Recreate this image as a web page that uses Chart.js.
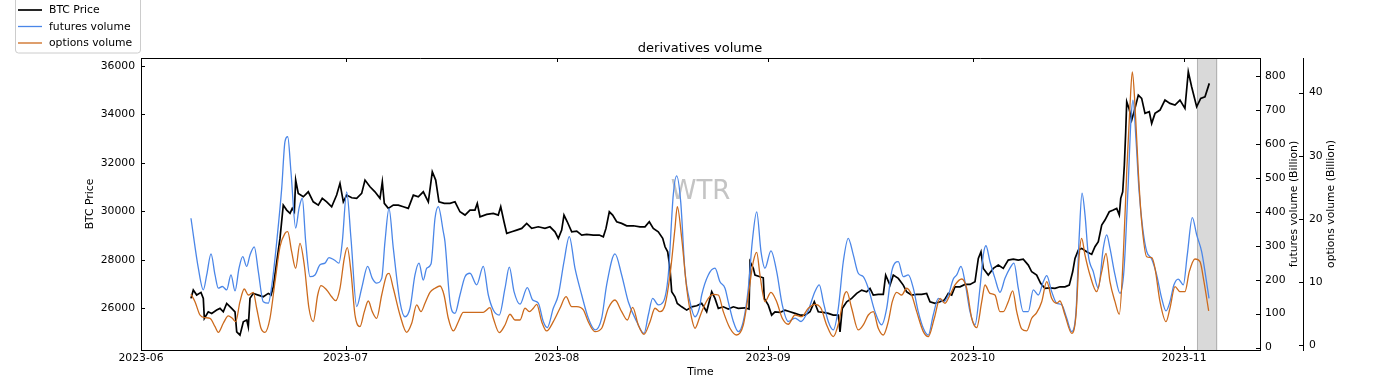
<!DOCTYPE html>
<html><head><meta charset="utf-8">
<script src="https://cdn.jsdelivr.net/npm/chart.js@4.4.0/dist/chart.umd.min.js"></script>
<style>html,body{margin:0;padding:0;background:#fff;overflow:hidden}#wrap{width:1400px;height:389px;position:relative}canvas{display:block}</style>
</head><body><div id="wrap"><canvas id="c" width="1400" height="389"></canvas></div>
<script>
// ---- x axis: days since 2023-06-01 ----
const monthTickDays = [0, 30, 61, 92, 122, 153];
const monthTickLabels = ['2023-06', '2023-07', '2023-08', '2023-09', '2023-10', '2023-11'];
const btcTicks = [26000, 28000, 30000, 32000, 34000, 36000];
const futuresTicks = [0, 100, 200, 300, 400, 500, 600, 700, 800];
const optionsTicks = [0, 10, 20, 30, 40];
const highlightStart = 154.9, highlightEnd = 157.9;
const legendLabels = ['BTC Price', 'futures volume', 'options volume'];

// ---- BTC price ----
const btcDays = [7.33,7.67,8.17,8.8,9.14,9.29,9.87,10.37,11.1,11.59,
12.07,12.57,13.3,13.79,14.04,14.52,15.01,15.51,15.74,15.99,
16.47,17.21,17.94,18.67,19.07,19.41,19.91,20.39,20.87,21.37,
21.86,22.19,22.49,22.69,23.07,23.81,24.54,25.27,26.01,26.59,
27.24,27.97,28.7,29.19,29.68,30.17,30.91,31.64,32.37,32.86,
33.59,34.32,35.06,35.4,35.69,36.28,37.01,37.75,38.48,39.21,
39.95,40.68,41.41,42.15,42.73,43.23,43.71,44.49,45.33,46.06,
46.79,47.53,48.26,48.99,49.33,49.73,50.71,51.68,52.41,52.77,
53.25,53.65,54.38,55.11,55.85,56.58,57.31,58.28,59.26,60.0,
60.73,61.22,61.71,62.05,62.53,63.18,63.92,64.65,65.38,66.35,
67.23,67.82,68.21,68.7,69.19,69.78,70.51,71.25,72.22,73.2,
73.93,74.56,75.15,75.88,76.53,76.87,77.26,77.6,77.85,78.33,
78.67,79.32,80.05,80.78,81.52,82.25,82.98,83.72,84.2,84.69,
85.42,86.15,86.89,87.62,88.6,89.19,89.34,89.82,90.07,90.8,
91.28,91.43,92.02,92.51,93.0,93.73,94.47,95.2,95.94,96.67,
97.4,98.14,98.77,99.35,100.09,100.82,101.55,102.29,102.54,102.87,
103.52,104.25,104.99,105.72,106.45,106.94,107.42,108.15,108.89,109.24,
109.87,110.36,111.09,111.82,112.32,113.05,113.79,114.52,115.25,115.74,
116.47,117.21,117.84,118.43,118.92,119.41,120.14,120.87,121.61,122.34,
122.83,123.22,123.56,124.29,125.03,125.76,126.49,127.22,127.96,128.69,
129.42,130.16,130.66,131.39,131.97,132.6,133.33,134.07,134.81,135.54,
136.17,136.67,137.01,137.49,137.99,138.73,139.46,139.94,140.43,140.93,
141.41,142.04,142.63,143.13,143.51,143.72,144.01,144.25,144.45,144.6,
144.93,145.33,145.81,146.3,146.79,147.28,147.91,148.26,148.75,149.48,
150.21,150.94,151.68,152.41,153.14,153.63,154.12,154.86,155.45,156.08,
156.71];
const btcPrice = [26408,26750,26544,26655,26408,25583,25855,25789,25925,25995,
25855,26201,25995,25855,25030,24894,25443,25513,25236,26408,
26614,26544,26474,26614,26544,26886,27917,28882,30255,30049,
29913,30119,29979,31286,30738,30598,30804,30391,30255,30532,
30391,30185,30668,31150,30391,30668,30556,30532,30738,31286,
31010,30804,30532,31216,30325,30119,30255,30255,30185,30119,
30668,30598,30804,30391,31629,31286,30391,30325,30325,30391,
29979,29843,30049,30049,30325,29773,29872,29913,29843,30185,
29567,29088,29154,29224,29294,29501,29294,29360,29294,29360,
29154,28882,29224,29843,29567,29154,29183,29018,29047,29018,
29018,28948,29294,29979,29843,29567,29501,29402,29402,29360,
29360,29567,29294,29154,28882,28536,28329,27645,26680,26474,
26201,26061,25925,26061,26102,26201,25855,26680,26408,25995,
26061,25966,26061,25995,26020,25966,27917,27645,27368,27298,
27257,26408,26131,25719,25855,25830,25925,25855,25789,25719,
25719,25855,26267,25855,25830,25789,25719,25719,25030,25995,
26267,26408,26614,26750,26680,26820,26544,26573,26573,27368,
26956,27368,27232,26956,26680,26544,26573,26573,26614,26267,
26201,26267,26337,26614,26544,26886,26886,26985,26985,27092,
28057,28329,27645,27368,27645,27781,27645,27987,28028,27987,
28028,27781,27505,27368,27026,26820,26845,26820,26886,26886,
26956,27505,28057,28399,28470,28329,28222,28536,28742,29430,
29637,29979,30049,30119,29843,30532,30804,31905,33278,34515,
34243,33761,34243,34792,34656,34037,34103,33625,34037,34173,
34585,34449,34379,34585,34243,35753,35134,34309,34656,34722,
35274];

// ---- futures volume (Billion) ----
const futuresDays = [7.33,8.41,9.14,9.64,10.27,10.86,11.34,11.93,12.57,13.2,
13.79,14.38,14.92,15.51,15.99,16.62,17.21,17.94,18.67,19.26,
19.91,20.64,21.12,21.52,22.0,22.69,23.18,23.66,24.16,24.79,
25.52,26.26,26.99,27.58,28.36,29.04,29.53,30.17,30.8,31.64,
32.37,33.25,33.93,34.57,35.31,35.79,36.38,37.01,37.99,38.73,
39.46,40.19,40.78,41.41,41.91,42.54,43.13,43.61,44.34,44.59,
45.33,46.06,46.79,47.53,48.26,49.24,50.21,50.95,51.68,52.56,
53.4,54.03,54.72,55.6,56.67,57.46,58.28,59.01,59.6,60.48,
61.22,62.05,62.83,63.66,64.65,65.61,66.6,67.58,68.31,69.53,
70.51,71.48,72.71,73.79,74.42,75.06,75.88,76.62,77.35,78.08,
78.58,79.17,79.8,80.53,81.27,81.9,82.25,83.22,84.2,84.93,
85.67,86.15,86.89,87.62,88.35,89.09,89.67,90.32,90.95,91.53,
92.41,93.25,94.07,94.95,95.94,96.82,97.8,98.87,99.5,100.09,
100.82,101.55,102.29,103.02,103.75,104.49,105.22,105.95,106.69,107.67,
108.65,109.39,110.12,111.09,111.82,112.56,113.29,114.02,114.76,115.49,
116.22,116.96,117.69,118.43,119.16,119.66,120.29,120.87,121.61,122.34,
123.07,123.56,123.95,124.54,125.27,126.01,126.74,127.47,128.06,128.69,
129.42,130.16,130.89,131.63,132.36,132.86,133.59,134.32,135.06,135.79,
136.53,137.16,137.64,138.04,138.48,138.96,139.69,140.43,141.16,141.66,
142.14,142.88,143.61,144.2,144.78,145.22,145.52,145.96,146.4,146.94,
147.53,148.26,148.99,149.73,150.36,150.94,151.53,152.16,152.9,153.48,
154.22,154.86,155.59,156.08,156.67];
const futuresVolume = [381,234,170,214,276,214,175,180,170,214,
167,234,268,239,273,297,224,135,131,194,
312,469,607,621,518,352,410,440,312,209,
214,244,249,265,258,249,312,459,322,121,
175,239,204,190,204,312,410,293,135,91,
116,214,249,199,234,246,381,415,342,312,
135,101,155,209,219,185,239,155,111,96,
175,237,165,128,177,140,131,77,59,116,
155,253,327,234,155,87,52,87,185,276,
214,135,77,42,96,145,126,135,214,450,
506,430,224,135,91,116,155,214,234,194,
175,135,77,47,77,175,312,400,283,234,
285,224,126,77,87,77,106,165,185,135,
77,52,116,253,322,273,219,209,175,106,
67,116,224,253,209,214,175,106,57,37,
96,145,135,155,202,214,239,194,106,67,
175,273,300,253,204,163,204,234,249,175,
106,106,170,155,194,212,165,131,126,87,
47,106,332,455,391,273,224,175,293,332,
293,214,160,229,464,670,729,612,464,352,
283,261,214,145,108,135,185,202,185,273,
383,332,283,224,145];

// ---- options volume (Billion) ----
const optionsDays = [7.33,7.92,8.65,9.39,10.12,10.86,11.34,12.07,12.81,13.39,
13.89,14.52,15.15,15.74,16.47,16.97,17.6,18.19,18.92,19.66,
20.39,21.12,21.52,22.1,22.69,23.32,23.95,24.64,25.27,25.92,
26.4,27.24,27.97,28.56,29.19,29.82,30.26,30.8,31.39,32.12,
32.76,33.34,33.93,34.57,35.31,36.04,36.38,37.01,37.99,38.97,
39.71,40.44,41.07,41.66,42.39,43.13,43.86,44.45,45.08,45.81,
46.55,47.28,48.75,50.21,51.2,51.68,52.56,53.4,54.13,54.86,
55.6,56.33,56.96,57.55,58.05,58.78,59.51,60.48,61.46,62.35,
63.18,63.92,64.89,65.61,66.6,67.58,68.55,69.53,70.51,71.34,
72.13,72.95,73.79,74.67,75.4,76.13,76.87,77.6,78.33,78.67,
79.32,80.05,80.78,81.27,81.9,82.25,83.22,83.95,84.69,85.42,
86.4,87.38,88.35,89.09,89.82,90.32,90.8,91.53,92.41,93.25,
94.07,94.95,95.94,96.92,97.89,98.87,99.75,100.58,101.55,102.39,
103.17,103.52,104.25,105.22,105.95,106.69,107.42,108.15,108.89,109.62,
110.21,110.86,111.59,112.32,113.05,113.79,114.76,115.49,116.37,117.21,
117.94,118.67,119.41,120.39,121.12,121.86,122.59,123.33,123.81,124.54,
125.27,126.01,126.49,127.22,127.87,128.46,129.19,129.92,130.66,131.39,
132.13,132.86,133.59,134.32,134.81,135.54,136.53,137.16,137.64,137.99,
138.48,139.21,140.19,140.93,141.56,142.14,142.88,143.51,144.1,144.6,
145.08,145.42,145.81,146.3,146.79,147.53,148.26,148.75,149.48,150.36,
150.94,151.68,152.41,153.14,153.78,154.61,155.35,155.93,156.62];
const optionsVolume = [8.03,6.86,4.75,4.33,4.23,2.9,2.01,3.44,4.6,4.23,
3.69,6.86,8.87,7.92,8.35,5.82,2.65,2.01,4.23,10.03,
15.58,17.7,17.96,14.79,12.16,16.12,12.68,5.82,3.69,7.92,
9.4,8.72,7.65,7.02,8.99,13.74,15.42,11.62,4.75,2.9,
5.28,6.97,5.28,4.23,7.92,11.09,11.36,8.99,4.75,2.01,
3.44,6.34,5.28,6.61,8.35,8.99,9.35,7.92,4.23,2.22,
3.69,5.18,5.18,5.18,5.91,4.23,1.95,3.17,4.87,3.96,
3.96,5.82,5.28,5.82,6.45,3.69,2.22,3.69,5.82,7.65,
6.07,6.07,5.55,3.69,2.11,2.65,5.82,7.13,5.28,3.96,
5.97,3.17,1.7,3.69,5.82,5.28,6.34,11.09,18.49,21.92,
16.91,8.99,4.23,2.65,4.23,5.28,7.4,8.03,7.92,5.28,
2.65,1.58,3.17,7.92,13.2,14.69,11.09,6.86,8.35,6.86,
4.23,3.28,4.75,4.48,5.82,6.45,5.82,3.17,1.32,3.69,
7.92,8.45,5.82,2.38,3.17,4.75,5.28,2.65,1.58,3.69,
6.86,8.35,7.92,8.99,7.92,5.28,2.11,1.32,4.23,7.4,
6.61,7.92,9.51,10.46,8.99,4.23,2.74,6.86,9.51,8.19,
7.92,5.28,5.28,6.86,8.56,5.28,2.54,2.22,4.23,5.12,
6.86,10.03,7.4,6.61,6.97,4.75,1.85,4.75,14.26,16.91,
14.26,11.09,8.45,11.62,14.53,10.03,6.86,4.87,14.26,27.46,
38.04,43.31,38.04,27.46,19.54,13.99,13.84,12.16,6.86,3.69,
5.82,9.24,8.45,8.45,11.62,13.63,13.2,10.03,5.39];

const toXY = (xs, ys) => xs.map((x, i) => ({x: x, y: ys[i]}));

const FONT = 'DejaVu Sans';
Chart.defaults.font.family = FONT;
Chart.defaults.font.size = 10.8;
Chart.defaults.color = '#000';

const COLORS = {btc: '#000000', fut: '#4a86e8', opt: '#cc6a1c'};

const decor = {
  id: 'decor',
  beforeDatasetsDraw(chart) {
    const {ctx, chartArea: a, scales} = chart;
    const x = scales.x;
    ctx.save();
    const x0 = x.getPixelForValue(highlightStart), x1 = x.getPixelForValue(highlightEnd);
    ctx.fillStyle = '#d9d9d9';
    ctx.fillRect(x0, a.top, x1 - x0, a.bottom - a.top);
    ctx.strokeStyle = '#b3b3b3';
    ctx.lineWidth = 1;
    ctx.beginPath();
    ctx.moveTo(Math.round(x0) + 0.5, a.top); ctx.lineTo(Math.round(x0) + 0.5, a.bottom);
    ctx.moveTo(Math.round(x1) - 0.5, a.top); ctx.lineTo(Math.round(x1) - 0.5, a.bottom);
    ctx.stroke();
    ctx.fillStyle = '#c4c4c4';
    ctx.font = '26px "' + FONT + '"';
    ctx.textAlign = 'center';
    ctx.textBaseline = 'middle';
    ctx.fillText('WTR', (a.left + a.right) / 2, 192);
    ctx.restore();
  },
  afterDraw(chart) {
    const {ctx, chartArea: a, scales} = chart;
    ctx.save();
    ctx.strokeStyle = '#000';
    ctx.lineWidth = 1;
    ctx.beginPath();
    ctx.moveTo(a.left, Math.round(a.top) + 0.5);
    ctx.lineTo(a.right, Math.round(a.top) + 0.5);
    ctx.stroke();
    const L = 4;
    ctx.beginPath();
    for (const v of monthTickDays) {
      const p = Math.round(scales.x.getPixelForValue(v)) + 0.5;
      ctx.moveTo(p, a.bottom); ctx.lineTo(p, a.bottom - L);
      ctx.moveTo(p, a.top); ctx.lineTo(p, a.top + L);
    }
    for (const v of btcTicks) {
      const p = Math.round(scales.y.getPixelForValue(v)) + 0.5;
      ctx.moveTo(a.left, p); ctx.lineTo(a.left + L, p);
    }
    for (const v of futuresTicks) {
      const p = Math.round(scales.y1.getPixelForValue(v)) + 0.5;
      ctx.moveTo(a.right, p); ctx.lineTo(a.right - L, p);
    }
    const ox = scales.y2.left;
    for (const v of optionsTicks) {
      const p = Math.round(scales.y2.getPixelForValue(v)) + 0.5;
      ctx.moveTo(ox, p); ctx.lineTo(ox - L, p);
    }
    ctx.stroke();
    ctx.fillStyle = '#000';
    ctx.font = '10.8px "' + FONT + '"';
    ctx.textAlign = 'center';
    ctx.textBaseline = 'middle';
    const cy = (a.top + a.bottom) / 2;
    [[1294, 'futures volume (Billion)'], [1331, 'options volume (Billion)']].forEach(([tx, t]) => {
      ctx.save();
      ctx.translate(tx, cy);
      ctx.rotate(-Math.PI / 2);
      ctx.fillText(t, 0, 0);
      ctx.restore();
    });
    ctx.fillStyle = '#fff';
    ctx.strokeStyle = '#cccccc';
    ctx.beginPath();
    if (ctx.roundRect) ctx.roundRect(15.5, -4.5, 125, 57.5, 3); else ctx.rect(15.5, -4.5, 125, 57.5);
    ctx.fill(); ctx.stroke();
    const cols = [COLORS.btc, COLORS.fut, COLORS.opt];
    const ys = [10, 26.5, 43];
    ctx.textAlign = 'left';
    legendLabels.forEach((t, i) => {
      ctx.strokeStyle = cols[i];
      ctx.lineWidth = i === 0 ? 1.7 : 1.3;
      ctx.beginPath();
      ctx.moveTo(18, ys[i]); ctx.lineTo(42, ys[i]);
      ctx.stroke();
      ctx.fillStyle = '#000';
      ctx.fillText(t, 49, ys[i] + 0.5);
    });
    ctx.restore();
  }
};

const axisBase = {
  grid: {display: false, drawTicks: false, drawOnChartArea: false},
  border: {display: true, color: '#000', width: 1},
};

new Chart(document.getElementById('c'), {
  type: 'line',
  data: {
    datasets: [
      {label: legendLabels[0], data: toXY(btcDays, btcPrice), yAxisID: 'y', borderColor: COLORS.btc, borderWidth: 1.7, pointRadius: 0, tension: 0, order: 3},
      {label: legendLabels[1], data: toXY(futuresDays, futuresVolume), yAxisID: 'y1', borderColor: COLORS.fut, borderWidth: 1.3, pointRadius: 0, tension: 0.4, cubicInterpolationMode: 'monotone', order: 2},
      {label: legendLabels[2], data: toXY(optionsDays, optionsVolume), yAxisID: 'y2', borderColor: COLORS.opt, borderWidth: 1.3, pointRadius: 0, tension: 0.4, cubicInterpolationMode: 'monotone', order: 1}
    ]
  },
  options: {
    responsive: false,
    animation: false,
    devicePixelRatio: 1,
    layout: {padding: {left: 0, right: 0, top: 0, bottom: 0}},
    plugins: {
      legend: {display: false},
      tooltip: {enabled: false},
      title: {display: true, text: 'derivatives volume', color: '#000', font: {size: 13, weight: 'normal'}, padding: {top: 40.5, bottom: 1.9}}
    },
    scales: {
      x: Object.assign({}, axisBase, {
        type: 'linear', position: 'bottom', min: 0, max: 164.15,
        afterBuildTicks: s => { s.ticks = monthTickDays.map(v => ({value: v})); },
        ticks: {autoSkip: false, maxRotation: 0, padding: 2,
          callback: v => monthTickLabels[monthTickDays.indexOf(v)]},
        title: {display: true, text: 'Time', padding: {top: 0, bottom: 10}},
        afterFit: s => { s.height = 39; }
      }),
      y: Object.assign({}, axisBase, {
        type: 'linear', position: 'left', min: 24280, max: 36320,
        afterBuildTicks: s => { s.ticks = btcTicks.map(v => ({value: v})); },
        ticks: {padding: 6, callback: v => String(v)},
        title: {display: true, text: 'BTC Price', padding: {top: 83.5, bottom: 0}},
        afterFit: s => { s.width = 141; }
      }),
      y1: Object.assign({}, axisBase, {
        type: 'linear', position: 'right', weight: 1, min: -7, max: 853,
        afterBuildTicks: s => { s.ticks = futuresTicks.map(v => ({value: v})); },
        ticks: {padding: 5, callback: v => String(v)},
        afterFit: s => { s.width = 43; }
      }),
      y2: Object.assign({}, axisBase, {
        type: 'linear', position: 'right', weight: 2, min: -0.8, max: 45.5,
        afterBuildTicks: s => { s.ticks = optionsTicks.map(v => ({value: v})); },
        ticks: {padding: 6, callback: v => String(v)},
        afterFit: s => { s.width = 97; }
      })
    }
  },
  plugins: [decor]
});
</script>
</body></html>
